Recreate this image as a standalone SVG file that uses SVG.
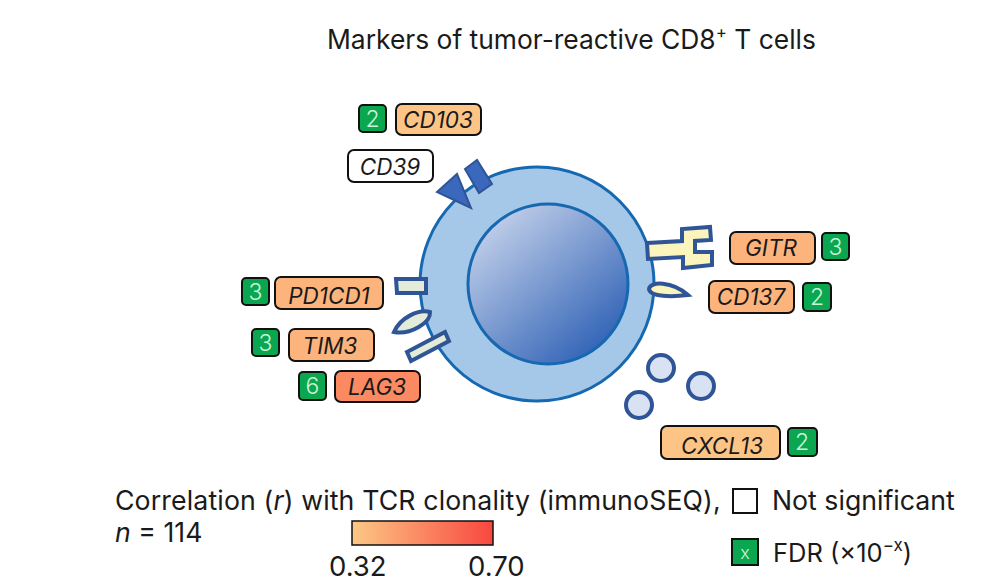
<svg xmlns="http://www.w3.org/2000/svg" width="983" height="587" viewBox="0 0 983 587">
<style>
text{font-family:"Inter","Liberation Sans",sans-serif;fill:#1a1a1a}
.t{font-size:26.700px}
.g{font-size:22.500px;font-style:italic;text-anchor:middle}
.n{font-size:23px;fill:#c9f5d8;text-anchor:middle;font-weight:300}
.box{stroke:#111;stroke-width:2;}
.badge{fill:#0ba650;stroke:#111;stroke-width:2}
.o{fill:#fdb47c}
.y{fill:#fdc585}
.r{fill:#fb8a62}
.m{stroke:#2f5597;stroke-width:4;stroke-linejoin:miter}
</style>
<defs>
<linearGradient id="nuc" x1="0.15" y1="0.1" x2="0.85" y2="0.9"><stop offset="0" stop-color="#c0cee9"/><stop offset="1" stop-color="#3163b6"/></linearGradient>
<linearGradient id="bar"><stop offset="0" stop-color="#fdc885"/><stop offset="1" stop-color="#f8473f"/></linearGradient>
</defs>
<text class="t" x="327" y="49" style="font-size:26.400px">Markers of tumor-reactive CD8<tspan font-size="17" dy="-11">+</tspan><tspan dy="11"> T cells</tspan></text>
<g id="cell">
<circle cx="537" cy="284" r="117" fill="#a5c8e8" stroke="#1668b0" stroke-width="3"/>
<circle cx="548" cy="284" r="80" fill="url(#nuc)" stroke="#1668b0" stroke-width="3"/>
</g>
<g id="connectors"></g>
<g id="cd103"><rect class="badge" x="359" y="105" width="27" height="27" rx="4"/><text class="n" x="372.500" y="127">2</text><rect class="box y" x="396" y="104" width="85" height="31" rx="6"/><text class="g" x="438" y="128">CD103</text></g>
<g id="cd39"><rect class="box" fill="#fff" x="348" y="150" width="85" height="32" rx="6"/><text class="g" x="390" y="175">CD39</text>
<path fill="#3a68bd" stroke="#2f5597" stroke-width="2" d="M437 192L457 174L471 208Z"/>
<path fill="#3a68bd" stroke="#2f5597" stroke-width="2" d="M465 169L477 160L492 184L479 193Z"/></g>
<g id="gitr"><path class="m" fill="#fbf4bd" d="M647 243L682 241L682 229L710 227L711 240L695 241L695 252L712 252L712 265L683 268L683 257L648 259Z"/><rect class="box o" x="730" y="232" width="85" height="32" rx="6"/><text class="g" x="771" y="256">GITR</text><rect class="badge" x="822" y="233" width="27" height="27" rx="4"/><text class="n" x="835.500" y="255">3</text></g>
<g id="cd137"><path class="m" fill="#fbf4bd" d="M649 289C650 281 672 281 688 295C672 297 650 297 649 289Z"/><rect class="box o" x="709" y="281" width="85" height="32" rx="6"/><text class="g" x="751" y="305">CD137</text><rect class="badge" x="803" y="283" width="28" height="28" rx="4"/><text class="n" x="817" y="305">2</text></g>
<g id="pd1cd1"><rect class="badge" x="242" y="278" width="27" height="27" rx="4"/><text class="n" x="255.500" y="300">3</text><rect class="box o" x="275" y="277" width="108" height="32" rx="6"/><text class="g" x="329" y="304">PD1CD1</text><path class="m" fill="#e3ecd8" d="M396 279L426 279L426 293L397 293Z"/></g>
<g id="tim3"><rect class="badge" x="252" y="329" width="27" height="27" rx="4"/><text class="n" x="265.500" y="351">3</text><rect class="box o" x="289" y="329" width="85" height="32" rx="6"/><text class="g" x="330" y="354">TIM3</text><path class="m" fill="#e3ecd8" d="M394 332C400 318 418 309 430 312C431 323 410 335 394 332Z"/></g>
<g id="lag3"><rect class="badge" x="299" y="372" width="27" height="28" rx="4"/><text class="n" x="312.500" y="394">6</text><rect class="box r" x="335" y="371" width="85" height="31" rx="6"/><text class="g" x="377" y="395">LAG3</text><path class="m" fill="#e3ecd8" d="M407 352L445 332L449 341L411 361Z"/></g>
<g id="cxcl13"><circle class="m" cx="661" cy="368" r="13" fill="#d8e2f2"/><circle class="m" cx="701" cy="386" r="13" fill="#d8e2f2"/><circle class="m" cx="639" cy="405" r="13" fill="#d8e2f2"/><rect class="box y" x="661" y="426" width="119" height="33" rx="6"/><text class="g" x="722" y="454">CXCL13</text><rect class="badge" x="788" y="428" width="29" height="28" rx="4"/><text class="n" x="802" y="450">2</text></g>
<g id="legend">
<text class="t" x="115" y="510" letter-spacing="0.130">Correlation (<tspan font-style="italic">r</tspan>) with TCR clonality (immunoSEQ),</text>
<text class="t" x="115" y="542"><tspan font-style="italic">n</tspan> = 114</text>
<rect x="352" y="521" width="141" height="24" fill="url(#bar)" stroke="#111" stroke-width="1.500"/>
<text class="t" x="329" y="576" style="font-size:27.500px">0.32</text><text class="t" x="468" y="576" style="font-size:27.500px">0.70</text>
<rect x="733" y="489" width="24" height="24" fill="#fff" stroke="#111" stroke-width="2"/>
<text class="t" x="772" y="510">Not significant</text>
<rect x="732" y="539" width="26" height="26" fill="#0ba650" stroke="#111" stroke-width="2"/>
<text x="745" y="559" class="n" style="font-size:18px">x</text>
<text class="t" x="773" y="562" style="font-size:25.500px">FDR (×10<tspan font-size="17" dy="-11">−x</tspan><tspan dy="11">)</tspan></text>
</g>
</svg>
